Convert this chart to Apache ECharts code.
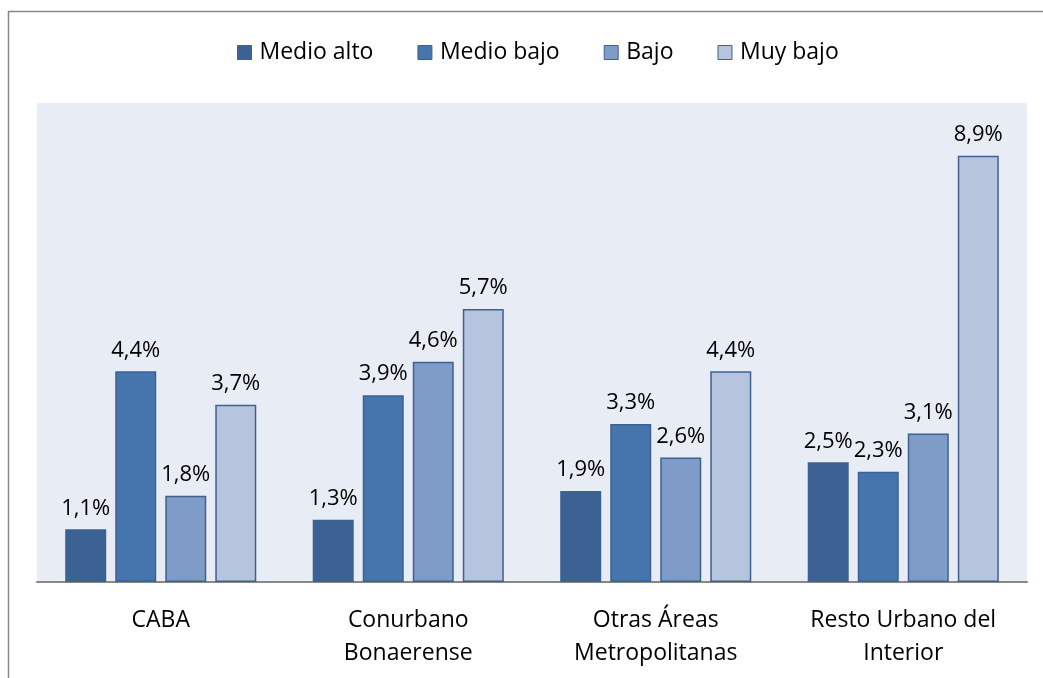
<!DOCTYPE html>
<html>
<head>
<meta charset="utf-8">
<script src="https://cdn.jsdelivr.net/npm/echarts@6/dist/echarts.min.js"></script>
<style>
  html, body { margin: 0; padding: 0; background: #fff; }
  #chart { width: 1043px; height: 678px; }
</style>
</head>
<body>
<div id="chart"></div>
<script>
// datos
const categories = ['CABA', 'Conurbano\nBonaerense', 'Otras Áreas\nMetropolitanas', 'Resto Urbano del\nInterior'];
const seriesNames = ['Medio alto', 'Medio bajo', 'Bajo', 'Muy bajo'];
const medioAlto = [1.1, 1.3, 1.9, 2.5];
const medioBajo = [4.4, 3.9, 3.3, 2.3];
const bajo = [1.8, 4.6, 2.6, 3.1];
const muyBajo = [3.7, 5.7, 4.4, 8.9];

const colors = ['#3B6293', '#4675AD', '#7F9CC8', '#B6C4DE'];
const fontFamily = '"Open Sans", Lato, sans-serif';

const chart = echarts.init(document.getElementById('chart'));

const makeSeries = (name, data, i) => ({
    name: name,
    type: 'bar',
    data: data,
    barWidth: 41,
    barGap: '22%',
    itemStyle: {
        color: colors[i],
        borderColor: '#3D6192',
        borderWidth: 1.5
    },
    label: {
        show: true,
        position: 'top',
        distance: 10,
        color: '#000',
        fontSize: 22,
        fontFamily: fontFamily,
        formatter: p => p.value.toFixed(1).replace('.', ',') + '%'
    }
});

chart.setOption({
    animation: false,
    graphic: [{
        type: 'rect',
        shape: { x: 8.5, y: 11.5, width: 1100, height: 700 },
        style: { fill: 'none', stroke: '#888', lineWidth: 1.5 },
        z: -1
    }],
    legend: {
        top: 36,
        left: 232,
        itemWidth: 14,
        itemHeight: 14,
        itemGap: 44,
        textStyle: { fontSize: 23, fontFamily: fontFamily, color: '#000', padding: [0, 0, 0, 3] },
        data: seriesNames.map((n, i) => ({
            name: n,
            icon: 'rect',
            itemStyle: { color: colors[i], borderColor: '#3D6192', borderWidth: 1 }
        }))
    },
    grid: {
        left: 37,
        right: 16,
        top: 103,
        bottom: 96,
        show: true,
        backgroundColor: '#E8ECF4',
        borderWidth: 0
    },
    xAxis: {
        type: 'category',
        data: categories,
        axisTick: { show: false },
        axisLine: { lineStyle: { color: '#888', width: 2 } },
        axisLabel: {
            color: '#000',
            fontSize: 23,
            fontFamily: fontFamily,
            lineHeight: 33,
            margin: 22
        }
    },
    yAxis: {
        type: 'value',
        min: 0,
        max: 10,
        show: false,
        splitLine: { show: false }
    },
    series: [
        makeSeries(seriesNames[0], medioAlto, 0),
        makeSeries(seriesNames[1], medioBajo, 1),
        makeSeries(seriesNames[2], bajo, 2),
        makeSeries(seriesNames[3], muyBajo, 3)
    ]
});
</script>
</body>
</html>
